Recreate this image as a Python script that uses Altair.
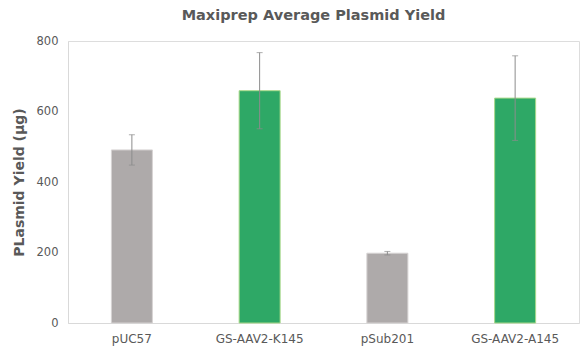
import altair as alt
import pandas as pd

categories = ["pUC57", "GS-AAV2-K145", "pSub201", "GS-AAV2-A145"]
yields = [491, 659, 198, 638]
errors = [43, 108, 5, 120]
fills = ["#AEAAAA", "#2EA866", "#AEAAAA", "#2EA866"]
strokes = ["#D6D3D3", "#A9D98A", "#D6D3D3", "#A9D98A"]

df = pd.DataFrame({
    "cat": categories,
    "y": yields,
    "lo": [v - e for v, e in zip(yields, errors)],
    "hi": [v + e for v, e in zip(yields, errors)],
    "fill": fills,
    "stroke": strokes,
})

FONT = "DejaVu Sans"
TXT = "#595959"

x = alt.X("cat:N", sort=categories, title=None,
          scale=alt.Scale(paddingInner=0, paddingOuter=0),
          axis=alt.Axis(labelAngle=0, labelFontSize=12, labelColor=TXT, labelFont=FONT,
                        domainColor="#D9D9D9", ticks=False, labelPadding=10))
yscale = alt.Scale(domain=[0, 800])

bars = alt.Chart(df).mark_bar(size=41, strokeWidth=1).encode(
    x=x,
    y=alt.Y("y:Q", scale=yscale, title="PLasmid Yield (µg)",
            axis=alt.Axis(values=[0, 200, 400, 600, 800], grid=False, ticks=False,
                          domainColor="#D9D9D9", labelFontSize=11.5, labelColor=TXT,
                          labelFont=FONT, labelPadding=10,
                          titleFont=FONT, titleFontSize=14, titleFontWeight="bold",
                          titleColor=TXT, titlePadding=10)),
    fill=alt.Fill("fill:N", scale=None),
    stroke=alt.Stroke("stroke:N", scale=None),
)

rules = alt.Chart(df).mark_rule(color="#8C8C8C", strokeWidth=1).encode(
    x=alt.X("cat:N", sort=categories),
    y=alt.Y("lo:Q", scale=yscale),
    y2="hi:Q",
)
caps_hi = alt.Chart(df).mark_tick(color="#8C8C8C", size=6, thickness=1, orient="horizontal").encode(
    x=alt.X("cat:N", sort=categories),
    y=alt.Y("hi:Q", scale=yscale),
)
caps_lo = alt.Chart(df).mark_tick(color="#8C8C8C", size=6, thickness=1, orient="horizontal").encode(
    x=alt.X("cat:N", sort=categories),
    y=alt.Y("lo:Q", scale=yscale),
)

chart = alt.layer(bars, rules, caps_hi, caps_lo).properties(
    width=511, height=282,
    title=alt.TitleParams("Maxiprep Average Plasmid Yield", font=FONT, fontSize=14.5,
                          fontWeight="bold", color=TXT, anchor="middle", offset=12, dx=-10),
    autosize=alt.AutoSizeParams(type="none"),
    padding={"left": 60, "top": 33, "right": 1, "bottom": 31},
).configure_view(stroke=None).configure(background="white")

chart.save("out.html", embed_options={"renderer": "svg", "actions": False})
